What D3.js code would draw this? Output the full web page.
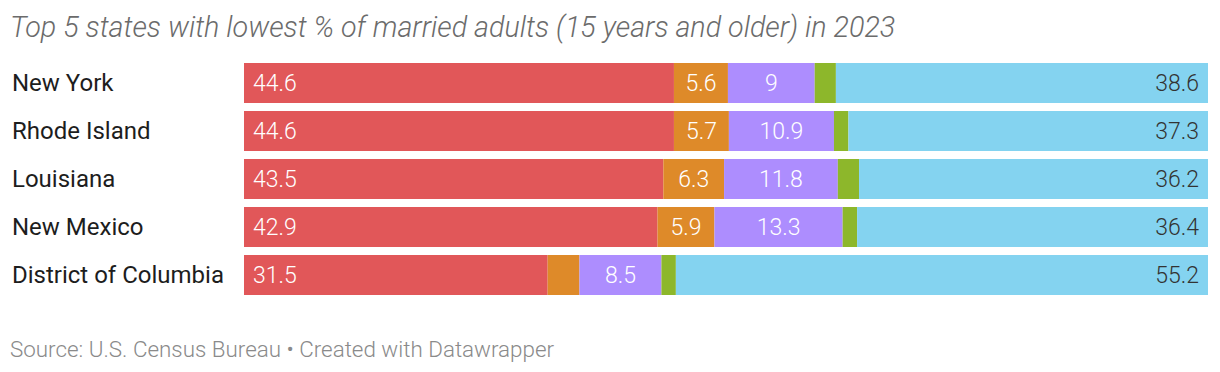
<!DOCTYPE html>
<html>
<head>
<meta charset="utf-8">
<script src="https://cdn.jsdelivr.net/npm/d3@7"></script>
<style>
body { margin: 0; background: #fff; font-family: Roboto, sans-serif; }
</style>
</head>
<body>
<svg id="chart" width="1220" height="372"></svg>
<script>
let states = ["New York", "Rhode Island", "Louisiana", "New Mexico", "District of Columbia"];
let series = ["married", "widowed", "divorced", "separated", "never married"];
let married = [44.6, 44.6, 43.5, 42.9, 31.5];
let widowed = [5.6, 5.7, 6.3, 5.9, 3.3];
let divorced = [9, 10.9, 11.8, 13.3, 8.5];
let separated = [2.2, 1.5, 2.2, 1.5, 1.5];
let neverMarried = [38.6, 37.3, 36.2, 36.4, 55.2];
let colors = ["#e15759", "#de8a29", "#ad8dfe", "#8db72b", "#84d3f0"];

let values = [married, widowed, divorced, separated, neverMarried];

let svg = d3.select("#chart"),
    margin = {top: 63, left: 244, right: 12},
    width = 1220 - margin.left - margin.right;

let x = d3.scaleLinear().domain([0, 100]).range([0, width]);
// 48px per row, 40px bars
let y = d3.scaleBand().domain(states)
    .range([margin.top, margin.top + 48 * (states.length - 1) + 40])
    .paddingInner(8 / 48).paddingOuter(0);

// title
svg.append("text")
    .attr("x", 10).attr("y", 37)
    .style("font-size", "28.7px").style("font-style", "italic")
    .style("font-weight", 300)
    .style("fill", "#6b6b6b")
    .text("Top 5 states with lowest % of married adults (15 years and older) in 2023");

// row labels
svg.append("g").selectAll("text")
    .data(states)
    .enter().append("text")
    .attr("x", 12)
    .attr("y", d => y(d) + y.bandwidth() / 2)
    .attr("dy", "0.35em")
    .style("font-size", "24px").style("font-weight", 400)
    .style("fill", "#1d1d1d")
    .text(d => d);

let g = svg.append("g").attr("transform", "translate(" + margin.left + ",0)");

for (let s = 0; s < states.length; s++) {
    let start = 0;
    for (let k = 0; k < series.length; k++) {
        let v = values[k][s];
        let x0 = x(start), w = x(start + v) - x(start);
        g.append("rect")
            .attr("x", x0).attr("y", y(states[s]))
            .attr("width", w).attr("height", y.bandwidth())
            .style("fill", colors[k]);
        // labels: skip narrow ones
        if (k !== 3 && w > 40) {
            let t = g.append("text")
                .attr("y", y(states[s]) + y.bandwidth() / 2)
                .attr("dy", "0.35em")
                .style("font-size", "23px")
                .style("font-weight", 300)
                .style("fill", k === 4 ? "#333" : "#fff")
                .text(v);
            if (k === 0) t.attr("x", x0 + 9);
            else if (k === 4) t.attr("x", x0 + w - 9).style("text-anchor", "end");
            else t.attr("x", x0 + w / 2).style("text-anchor", "middle");
        }
        start += v;
    }
}

// footer
svg.append("text")
    .attr("x", 10).attr("y", 357)
    .style("font-size", "22.4px").style("font-weight", 300)
    .style("fill", "#8a8a8a")
    .text("Source: U.S. Census Bureau \u2022 Created with Datawrapper");
</script>
</body>
</html>
